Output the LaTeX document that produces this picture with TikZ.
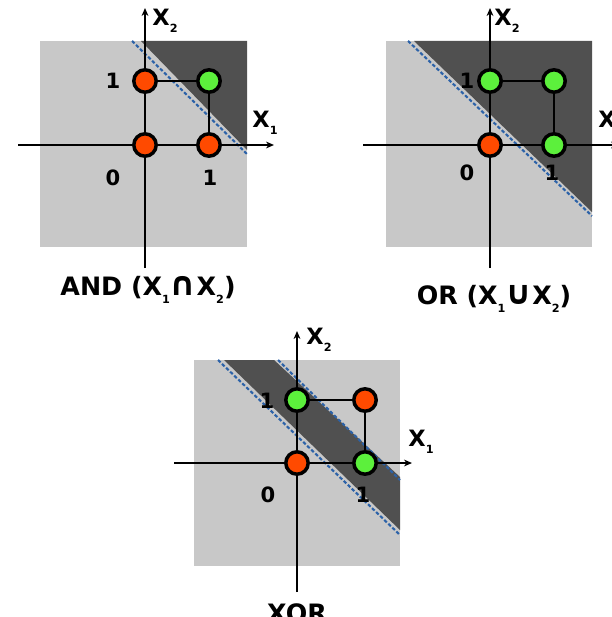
\documentclass[tikz,border=0pt]{standalone}
\usepackage{fontspec}
\setmainfont{DejaVu Sans}
\usepackage{tikz}
\usetikzlibrary{arrows.meta}
\definecolor{plane}{HTML}{C8C8C8}
\definecolor{region}{HTML}{505050}
\definecolor{falsept}{HTML}{FF4A00}
\definecolor{truept}{HTML}{5CF03C}
\definecolor{border}{HTML}{2C62A8}
\newcommand{\sub}[1]{\raisebox{-0.6ex}{\fontsize{8}{8}\selectfont #1}}

\begin{document}
\begin{tikzpicture}[x=0.025cm,y=-0.025cm,>={Stealth[length=0.2cm,width=0.17cm]},line join=round,
  axis/.style={line width=2.1pt,->},
  edge/.style={line width=1.8pt},
  pt0/.style={circle,draw=black,line width=2.5pt,fill=falsept,minimum size=0.56cm,inner sep=0pt},
  pt1/.style={pt0,fill=truept},
  sep/.style={border,line width=1.5pt,dash pattern=on 2.5pt off 1.5pt},
  lbl/.style={font=\bfseries\fontsize{16}{16}\selectfont,inner sep=0pt},
  num/.style={font=\bfseries\fontsize{15}{15}\selectfont,inner sep=0pt},
  ttl/.style={font=\bfseries\fontsize{18}{18}\selectfont,inner sep=0pt}]
  \useasboundingbox (0,0) rectangle (611,617);
  % AND
  \fill[plane] (40,41) rectangle (247,247);
  \fill[region] (141,41) -- (247,41) -- (247,150) -- cycle;
  \draw[sep] (132,41) -- (247,154);
  \coordinate (AxW) at (18,145);
  \coordinate (AxE) at (274,145);
  \coordinate (AyS) at (145,268);
  \coordinate (AyN) at (145,8);
  \draw[axis] (AxW) -- (AxE);
  \draw[axis] (AyS) -- (AyN);
  \node[pt0] (A00) at (145,145) {};
  \node[pt0] (A10) at (209,145) {};
  \node[pt0] (A01) at (145,81) {};
  \node[pt1] (A11) at (209,81) {};
  \draw[edge] (A01) -- (A11) -- (A10);
  \node[lbl] (Ax2) at (165,21) {X\sub{2}};
  \node[lbl] (Ax1) at (265,123) {X\sub{1}};
  \node[num] (Ay1) at (113,81) {1};
  \node[num] (Ao) at (113,178) {0};
  \node[num] (Ax1v) at (210,178) {1};
  \node[ttl] (Attl) at (148,290) {AND (X\sub{1}\scalebox{1.3}{∩}X\sub{2})};
  % OR
  \fill[plane] (386,41) rectangle (592,247);
  \fill[region] (414,41) -- (592,41) -- (592,212) -- cycle;
  \draw[sep] (408,41) -- (592,216);
  \coordinate (OxW) at (363,145);
  \coordinate (OxE) at (619,145);
  \coordinate (OyS) at (490,268);
  \coordinate (OyN) at (490,8);
  \draw[axis] (OxW) -- (OxE);
  \draw[axis] (OyS) -- (OyN);
  \node[pt0] (O00) at (490,145) {};
  \node[pt1] (O10) at (554,145) {};
  \node[pt1] (O01) at (490,81) {};
  \node[pt1] (O11) at (554,81) {};
  \draw[edge] (O01) -- (O11) -- (O10);
  \node[lbl] (Ox2) at (507,21) {X\sub{2}};
  \node[lbl,anchor=west] (Ox1) at (598,123) {X\sub{1}};
  \node[num] (Oy1) at (467,81) {1};
  \node[num] (Oo) at (467,173) {0};
  \node[num] (Ox1v) at (552,173) {1};
  \node[ttl] (Ottl) at (494,299) {OR (X\sub{1}\scalebox{1.3}{∪}X\sub{2})};
  % XOR
  \fill[plane] (194,360) rectangle (400,566);
  \fill[region] (224,360) -- (274,360) -- (400,477) -- (400,530) -- cycle;
  \draw[sep] (218,360) -- (400,535);
  \draw[sep] (278,360) -- (400,480);
  \coordinate (XxW) at (174,463);
  \coordinate (XxE) at (412,463);
  \coordinate (XyS) at (297,592);
  \coordinate (XyN) at (297,331);
  \draw[axis] (XxW) -- (XxE);
  \draw[axis] (XyS) -- (XyN);
  \node[pt0] (X00) at (297,463) {};
  \node[pt1] (X10) at (365,463) {};
  \node[pt1] (X01) at (297,400) {};
  \node[pt0] (X11) at (365,400) {};
  \draw[edge] (X01) -- (X11) -- (X10);
  \node[lbl] (Xx2) at (319,340) {X\sub{2}};
  \node[lbl] (Xx1) at (421,442) {X\sub{1}};
  \node[num] (Xy1) at (267,401) {1};
  \node[num] (Xo) at (268,495) {0};
  \node[num] (Xx1v) at (363,495) {1};
  \node[ttl] (Xttl) at (297,613) {XOR};
\end{tikzpicture}
\end{document}
